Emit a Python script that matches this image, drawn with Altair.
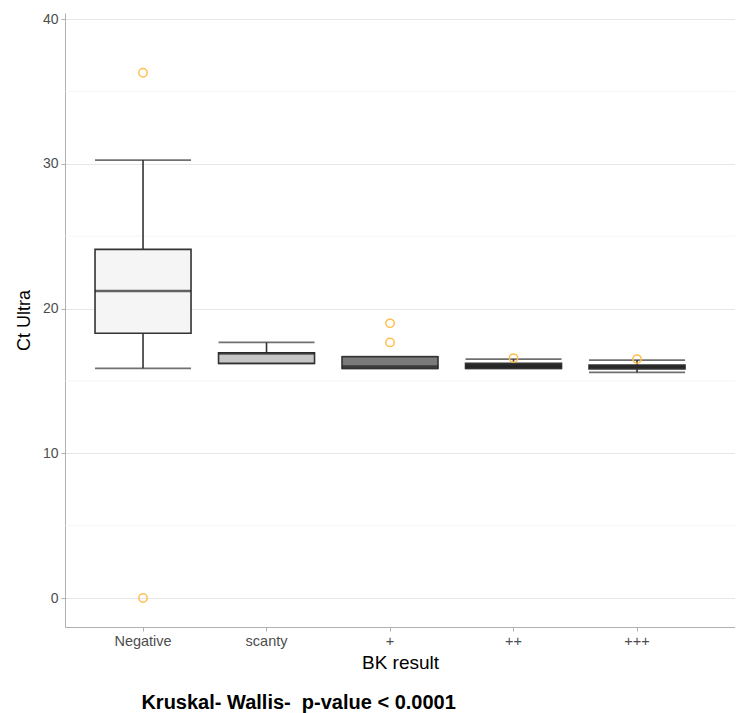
import altair as alt
import pandas as pd

# ---- data ----
categories = ["Negative", "scanty", "+", "++", "+++"]
lower_whisker = [15.87, 16.21, 15.87, 15.87, 15.59]
q1 = [18.29, 16.21, 15.87, 15.87, 15.82]
median = [21.21, 16.90, 16.00, 16.00, 15.98]
q3 = [24.09, 16.95, 16.67, 16.21, 16.10]
upper_whisker = [30.26, 17.66, 16.67, 16.51, 16.44]
fills = ["#f5f5f5", "#c6c6c6", "#7a7a7a", "#2a2a2a", "#333333"]

outlier_cat = ["Negative", "Negative", "+", "+", "++", "+++"]
outlier_val = [36.29, 0.0, 18.98, 17.66, 16.58, 16.51]

minor_grid = [5, 15, 25, 35]
y_ticks = [0, 10, 20, 30, 40]

box = pd.DataFrame({
    "cat": categories, "lw": lower_whisker, "q1": q1, "med": median,
    "q3": q3, "uw": upper_whisker, "fill": fills,
})
outl = pd.DataFrame({"cat": outlier_cat, "val": outlier_val})
minor = pd.DataFrame({"v": minor_grid})

FONT = "Liberation Sans"
BOXW = 96

x_enc = alt.X("cat:N", sort=categories, title="BK result",
              scale=alt.Scale(paddingInner=0, paddingOuter=0.2126, align=0.31),
              axis=alt.Axis(labelAngle=0, tickSize=4, tickColor="#b0b0b0",
                            labelPadding=3, titlePadding=6, labelFontSize=14.5,
                            titleFontSize=19,
                            domainColor="#b0b0b0", gridColor="#e6e6e6"))
y_scale = alt.Scale(domain=[-2, 40.42], nice=False, zero=False)
y_axis = alt.Axis(values=y_ticks, tickSize=4, tickColor="#b0b0b0",
                  domainColor="#b0b0b0", gridColor="#e6e6e6",
                  labelPadding=3, titlePadding=9)

base = alt.Chart(box)

minor_rules = alt.Chart(minor).mark_rule(color="#f3f3f3", strokeWidth=0.8).encode(
    y=alt.Y("v:Q", scale=y_scale, axis=y_axis, title="Ct Ultra")
)

whisker = base.mark_rule(color="#333333", strokeWidth=1.6).encode(
    x=x_enc,
    y=alt.Y("lw:Q", scale=y_scale, axis=y_axis, title="Ct Ultra"),
    y2="uw:Q",
)
cap_low = base.mark_tick(color="#333333", size=BOXW, thickness=1.8, orient="horizontal").encode(
    x=x_enc, y=alt.Y("lw:Q", scale=y_scale)
)
cap_up = base.mark_tick(color="#333333", size=BOXW, thickness=1.8, orient="horizontal").encode(
    x=x_enc, y=alt.Y("uw:Q", scale=y_scale)
)
boxes = base.mark_bar(size=BOXW, stroke="#333333", strokeWidth=1.6).encode(
    x=x_enc,
    y=alt.Y("q1:Q", scale=y_scale),
    y2="q3:Q",
    fill=alt.Fill("fill:N", scale=None),
)
med = base.mark_tick(color="#222222", size=BOXW, thickness=2.6, orient="horizontal").encode(
    x=x_enc, y=alt.Y("med:Q", scale=y_scale)
)
points = alt.Chart(outl).mark_point(shape="circle", filled=False, color="#ffbf4d",
                                    size=70, strokeWidth=1.5, opacity=1).encode(
    x=alt.X("cat:N", sort=categories),
    y=alt.Y("val:Q", scale=y_scale),
)

chart = alt.layer(minor_rules, whisker, cap_low, cap_up, boxes, med, points).properties(
    width=670, height=614,
    autosize=alt.AutoSizeParams(type="none"),
    padding={"left": 57, "top": 5, "right": 0, "bottom": 88},
    title=alt.TitleParams(
        "Kruskal- Wallis-\u00a0 p-value < 0.0001", orient="bottom", anchor="start",
        dx=126, offset=20, font=FONT, fontSize=20, fontWeight="bold", color="#000000",
    ),
).configure_view(stroke=None).configure_axis(
    labelFont=FONT, labelFontSize=14, labelColor="#4d4d4d",
    titleFont=FONT, titleFontSize=18, titleFontWeight="normal", titleColor="#000000",
    gridWidth=1,
)

chart.save("out.html", embed_options={"renderer": "svg", "actions": False})
